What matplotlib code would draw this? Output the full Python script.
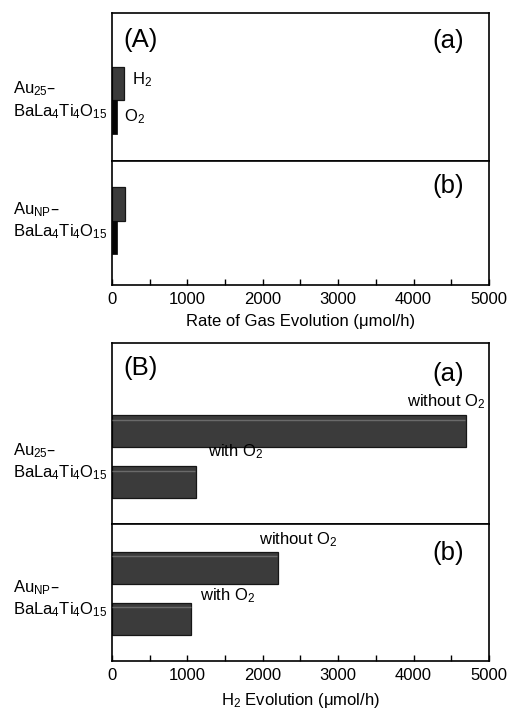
import numpy as np
import matplotlib
matplotlib.use("Agg")
import matplotlib.pyplot as plt
from matplotlib.ticker import MultipleLocator
from matplotlib.transforms import blended_transform_factory

plt.rcParams['font.family'] = ['Liberation Sans', 'DejaVu Sans']
plt.rcParams['mathtext.default'] = 'regular'

# === Datos ===
samples = [r'Au$_{25}$–' + '\n' + r'BaLa$_4$Ti$_4$O$_{15}$',
           r'Au$_{NP}$–' + '\n' + r'BaLa$_4$Ti$_4$O$_{15}$']
sub_tags = ['(a)', '(b)']

# Panel A: velocidad de evolución de gas (µmol/h)
rate_h2 = [160, 170]
rate_o2 = [60, 70]

# Panel B: evolución de H2 (µmol/h)
h2_without_o2 = [4700, 2200]
h2_with_o2 = [1110, 1050]

xmax = 5000
bar_face = '#3b3b3b'
bar_edge = '#161616'
frame_lw = 1.2
fs = 12
fs_tag = 18.5

fig = plt.figure(figsize=(5.09, 7.10), dpi=100)
left, width = 0.2200, 0.7407

# posiciones de ejes (fracción de figura)
pos_A = [(0.7732, 0.2085), (0.5986, 0.1746)]
pos_B = [(0.2620, 0.2549), (0.0690, 0.1930)]
ylims_A = [(-1.31, 3.10), (-1.42, 2.28)]
ylims_B = [(-0.82, 2.73), (-0.82, 1.86)]


def style_axis(ax, show_ticks):
    for sp in ax.spines.values():
        sp.set_linewidth(frame_lw)
    ax.set_xlim(0, xmax)
    ax.set_yticks([])
    if show_ticks:
        ax.xaxis.set_major_locator(MultipleLocator(1000))
        ax.xaxis.set_minor_locator(MultipleLocator(500))
        ax.tick_params(axis='x', which='both', direction='in', length=4, width=1,
                       labelsize=fs, pad=5, top=False)
    else:
        ax.set_xticks([])


def draw_bar(ax, y, val, h, face, edge, highlight=True):
    ax.barh(y, val, height=h, color=face, edgecolor=edge, linewidth=0.9, zorder=2)
    if highlight and val > 300:
        ax.hlines(y + h * 0.36, 0, val * 0.995, color='#6a6a6a', lw=1.0, zorder=3)


def sample_label(ax, y, text):
    tr = blended_transform_factory(fig.transFigure, ax.transData)
    ax.text(13 / 509, y, text, transform=tr, ha='left', va='center',
            fontsize=fs, linespacing=1.28)


# === Panel A ===
axes_A = []
for i in range(2):
    b, h = pos_A[i]
    ax = fig.add_axes([left, b, width, h])
    axes_A.append(ax)
    draw_bar(ax, 1, rate_h2[i], 1.0, bar_face, bar_edge, highlight=False)
    ax.barh(0, rate_o2[i], height=1.0, color='#050505', edgecolor='#050505', linewidth=0.5, zorder=2)
    ax.set_ylim(*ylims_A[i])
    style_axis(ax, show_ticks=(i == 1))
    sample_label(ax, 0.5, samples[i])
    ax.text(0.935, 0.81 if i == 0 else 0.8, sub_tags[i], transform=ax.transAxes,
            ha='right', va='center', fontsize=fs_tag)

axes_A[0].text(0.03, 0.82, '(A)', transform=axes_A[0].transAxes, ha='left', va='center', fontsize=fs_tag)
axes_A[0].text(rate_h2[0] + 110, 1.1, r'H$_2$', ha='left', va='center', fontsize=fs)
axes_A[0].text(rate_o2[0] + 100, 0.0, r'O$_2$', ha='left', va='center', fontsize=fs)
axes_A[1].set_xlabel('Rate of Gas Evolution (μmol/h)', fontsize=fs, labelpad=5)

# === Panel B ===
axes_B = []
for i in range(2):
    b, h = pos_B[i]
    ax = fig.add_axes([left, b, width, h])
    axes_B.append(ax)
    draw_bar(ax, 1, h2_without_o2[i], 0.63, bar_face, bar_edge)
    draw_bar(ax, 0, h2_with_o2[i], 0.63, bar_face, bar_edge)
    ax.set_ylim(*ylims_B[i])
    style_axis(ax, show_ticks=(i == 1))
    sample_label(ax, 0.4, samples[i])
    ax.text(0.935, 0.83 if i == 0 else 0.79, sub_tags[i], transform=ax.transAxes,
            ha='right', va='center', fontsize=fs_tag)

axes_B[0].text(0.03, 0.86, '(B)', transform=axes_B[0].transAxes, ha='left', va='center', fontsize=fs_tag)
axes_B[0].text(4950, 1.57, r'without O$_2$', ha='right', va='center', fontsize=fs)
axes_B[0].text(h2_with_o2[0] + 170, 0.6, r'with O$_2$', ha='left', va='center', fontsize=fs)
axes_B[1].text(h2_without_o2[1] - 250, 1.55, r'without O$_2$', ha='left', va='center', fontsize=fs)
axes_B[1].text(h2_with_o2[1] + 120, 0.45, r'with O$_2$', ha='left', va='center', fontsize=fs)
axes_B[1].set_xlabel(r'H$_2$ Evolution (μmol/h)', fontsize=fs, labelpad=6)

plt.savefig('out.png', dpi=100)
